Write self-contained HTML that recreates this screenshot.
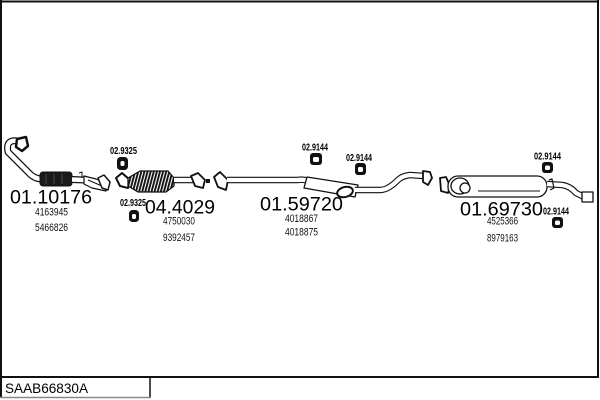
<!DOCTYPE html>
<html><head><meta charset="utf-8"><style>
html,body{margin:0;padding:0;background:#fff;width:600px;height:400px;overflow:hidden}
svg{display:block}
.big{font-family:"Liberation Sans",Arial,sans-serif;font-size:19px;fill:#000}
.sm{font-family:"Liberation Sans",Arial,sans-serif;font-size:11px;fill:#111}
.lb{font-family:"Liberation Sans",Arial,sans-serif;font-size:10px;font-weight:bold;fill:#000}
</style></head><body>
<svg width="600" height="400" viewBox="0 0 600 400" xmlns="http://www.w3.org/2000/svg">
<defs>
<pattern id="hatch" width="3" height="4" patternUnits="userSpaceOnUse" patternTransform="rotate(15)">
<rect width="3" height="4" fill="#fff"/><rect width="1.9" height="4" fill="#111"/>
</pattern>
</defs>
<!-- frame -->
<line x1="0" y1="1.5" x2="599" y2="1.5" stroke="#111" stroke-width="2"/>
<line x1="1" y1="0" x2="1" y2="398" stroke="#111" stroke-width="2"/>
<line x1="598" y1="0" x2="598" y2="378" stroke="#111" stroke-width="2"/>
<line x1="0" y1="377" x2="599" y2="377" stroke="#111" stroke-width="2"/>
<line x1="150" y1="377" x2="150" y2="398" stroke="#111" stroke-width="1.5"/>
<line x1="0" y1="397.5" x2="151" y2="397.5" stroke="#888" stroke-width="1.5"/>
<text x="5" y="393" font-family="Liberation Sans, Arial, sans-serif" font-size="14" fill="#000" textLength="83" lengthAdjust="spacingAndGlyphs">SAAB66830A</text>

<g fill="none" stroke-linecap="butt" stroke-linejoin="round">
<!-- part 1 front pipe -->
<path d="M22,142 Q5,137 8,152 L28,172 Q34,179 42,179" stroke="#111" stroke-width="7"/>
<path d="M22,142 Q5,137 8,152 L28,172 Q34,179 42,179" stroke="#fff" stroke-width="4.5"/>
<path d="M17,139 L26,137 L28,146 L22,151 L16,147 Z" fill="#fff" stroke="#111" stroke-width="2.5"/>
<rect x="40" y="172" width="32" height="14" rx="3" fill="#1a1a1a" stroke="#111"/>
<line x1="46" y1="174" x2="46" y2="184" stroke="#555" stroke-width="0.8"/>
<line x1="54" y1="174" x2="54" y2="184" stroke="#555" stroke-width="0.8"/>
<line x1="62" y1="174" x2="62" y2="184" stroke="#555" stroke-width="0.8"/>
<path d="M72,179.5 L84,180" stroke="#111" stroke-width="7"/>
<path d="M72,179.5 L84,180" stroke="#fff" stroke-width="4.5"/>
<path d="M79,173 L82,172 L82,178" stroke="#111" stroke-width="1"/>
<path d="M84,176 L96,179 L108,184 L106,191 L92,188 L84,184 Z" fill="#fff" stroke="#111" stroke-width="1.2"/>
<line x1="88" y1="180" x2="102" y2="186" stroke="#111" stroke-width="1"/>
<path d="M98,178 L104,175 L110,182 L108,190 L102,188 Z" fill="#fff" stroke="#111" stroke-width="1.5"/>

<!-- part 2 cat -->
<path d="M116,178 L122,173 L130,180 L128,188 L120,186 Z" fill="#fff" stroke="#111" stroke-width="2"/>
<path d="M128,178 L140,171 L168,171 L174,178 L174,186 L166,192 L138,192 L128,186 Z" fill="url(#hatch)" stroke="#111" stroke-width="1.3"/>
<path d="M174,180 L194,180" stroke="#111" stroke-width="6.5"/>
<path d="M174,180 L194,180" stroke="#fff" stroke-width="4.3"/>
<path d="M191,176 L198,173 L205,180 L203,188 L195,186 Z" fill="#fff" stroke="#111" stroke-width="1.8"/>
<rect x="206" y="179" width="4" height="4" fill="#111"/>

<!-- part 3 -->
<path d="M214,177 L220,172 L228,180 L226,190 L218,187 Z" fill="#fff" stroke="#111" stroke-width="1.8"/>
<path d="M227,180 L298,180 Q303,179 308,181" stroke="#111" stroke-width="6.5"/>
<path d="M227,180 L298,180 Q303,179 308,181" stroke="#fff" stroke-width="4.3"/>
<path d="M307,177 L358,185 L355,197 L304,188 Z" fill="#fff" stroke="#111" stroke-width="1.3"/>
<ellipse cx="345" cy="192" rx="8" ry="5" fill="#fff" stroke="#111" stroke-width="2" transform="rotate(-15 345 192)"/>
<path d="M355,190 L380,190 Q388,190 398,180 Q402,176 410,175 L424,176" stroke="#111" stroke-width="6.5"/>
<path d="M355,190 L380,190 Q388,190 398,180 Q402,176 410,175 L424,176" stroke="#fff" stroke-width="4.3"/>
<path d="M423,171 L430,172 L432,178 L428,185 L423,182 Z" fill="#fff" stroke="#111" stroke-width="1.8"/>

<!-- part 4 rear -->
<path d="M440,178 L446,177 L450,186 L448,193 L441,191 Z" fill="#fff" stroke="#111" stroke-width="1.8"/>
<rect x="448" y="176" width="99" height="21" rx="10" fill="#fff" stroke="#111" stroke-width="1.3"/>
<ellipse cx="460" cy="186" rx="9" ry="8" fill="#fff" stroke="#111" stroke-width="1.3"/>
<ellipse cx="465" cy="188" rx="5" ry="5" fill="#fff" stroke="#111" stroke-width="1.3"/>
<line x1="478" y1="191" x2="540" y2="191" stroke="#111" stroke-width="1"/>
<path d="M547,184 L562,185 Q570,186 576,193 L584,197" stroke="#111" stroke-width="6.5"/>
<path d="M547,184 L562,185 Q570,186 576,193 L584,197" stroke="#fff" stroke-width="4.3"/>
<rect x="582" y="192" width="11" height="10" fill="#fff" stroke="#111" stroke-width="1.3"/>
<path d="M549,180 L552,179 L554,188 L550,190" stroke="#111" stroke-width="1.2"/>
</g>

<!-- hangers -->
<g fill="#111">
<rect x="117" y="157" width="11" height="13" rx="3.5"/>
<rect x="129" y="210" width="10" height="12" rx="3.5"/>
<rect x="310" y="153" width="12" height="12" rx="3"/>
<rect x="355" y="163" width="11" height="12" rx="3"/>
<rect x="542" y="162" width="11" height="11" rx="3"/>
<rect x="552" y="217" width="11" height="11" rx="3"/>
</g>
<g fill="#fff">
<rect x="120.5" y="161" width="4" height="5" rx="1.5"/>
<rect x="132" y="214" width="4" height="5" rx="1.5"/>
<rect x="313" y="157" width="6" height="5" rx="1.5"/>
<rect x="358" y="167" width="5" height="5" rx="1.5"/>
<rect x="545" y="165.5" width="5" height="4.5" rx="1.5"/>
<rect x="555" y="220.5" width="5" height="4.5" rx="1.5"/>
</g>

<!-- labels -->
<text class="lb" x="110" y="154" textLength="27" lengthAdjust="spacingAndGlyphs">02.9325</text>
<text class="lb" x="120" y="206" textLength="26" lengthAdjust="spacingAndGlyphs">02.9325</text>
<text class="lb" x="302" y="150.5" textLength="26" lengthAdjust="spacingAndGlyphs">02.9144</text>
<text class="lb" x="346" y="161" textLength="26" lengthAdjust="spacingAndGlyphs">02.9144</text>
<text class="lb" x="534" y="159.5" textLength="27" lengthAdjust="spacingAndGlyphs">02.9144</text>
<text class="lb" x="543" y="214.5" textLength="26" lengthAdjust="spacingAndGlyphs">02.9144</text>

<text class="big" x="10" y="203.5" textLength="82" lengthAdjust="spacingAndGlyphs">01.10176</text>
<text class="big" x="145" y="213.5" textLength="70" lengthAdjust="spacingAndGlyphs">04.4029</text>
<text class="big" x="260" y="210.5" textLength="83" lengthAdjust="spacingAndGlyphs">01.59720</text>
<text class="big" x="460" y="215.5" textLength="83" lengthAdjust="spacingAndGlyphs">01.69730</text>

<text class="sm" x="35" y="215.5" textLength="33" lengthAdjust="spacingAndGlyphs">4163945</text>
<text class="sm" x="35" y="231" textLength="33" lengthAdjust="spacingAndGlyphs">5466826</text>
<text class="sm" x="163" y="224.5" textLength="32" lengthAdjust="spacingAndGlyphs">4750030</text>
<text class="sm" x="163" y="241" textLength="32" lengthAdjust="spacingAndGlyphs">9392457</text>
<text class="sm" x="285" y="222" textLength="33" lengthAdjust="spacingAndGlyphs">4018867</text>
<text class="sm" x="285" y="235.5" textLength="33" lengthAdjust="spacingAndGlyphs">4018875</text>
<text class="sm" x="487" y="224.5" textLength="31" lengthAdjust="spacingAndGlyphs">4525366</text>
<text class="sm" x="487" y="241.5" textLength="31" lengthAdjust="spacingAndGlyphs">8979163</text>
</svg>
</body></html>
